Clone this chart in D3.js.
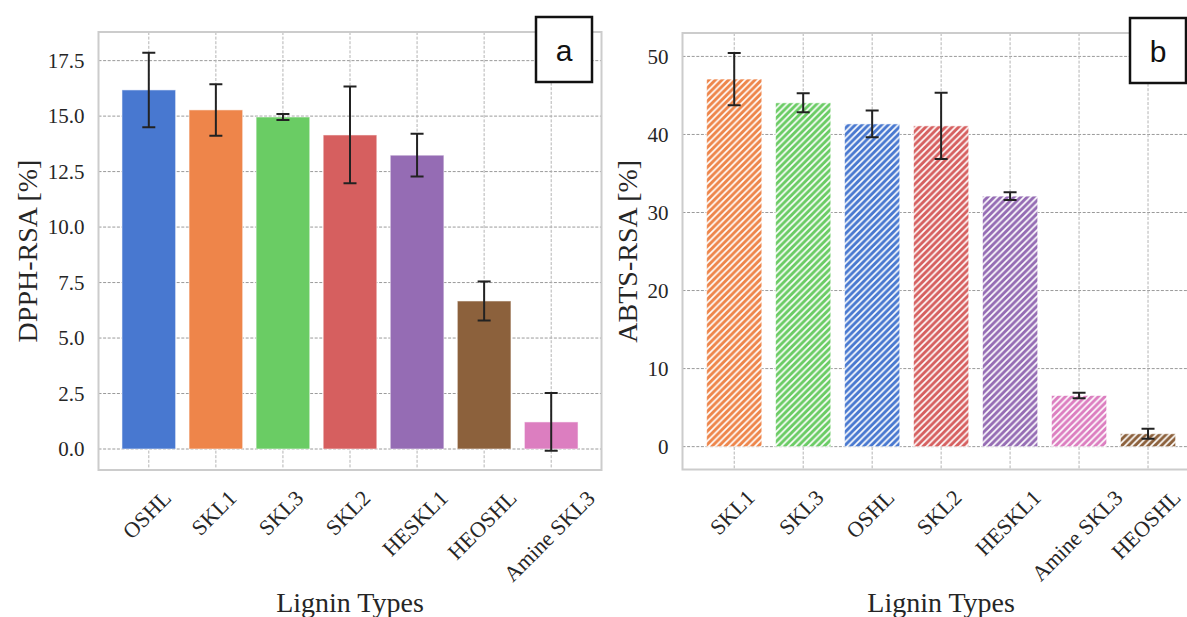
<!DOCTYPE html>
<html>
<head>
<meta charset="utf-8">
<script src="https://cdn.jsdelivr.net/npm/d3@7"></script>
<style>
  html, body { margin: 0; padding: 0; background: #ffffff; }
  svg { display: block; }
</style>
</head>
<body>
<svg id="chart" width="1187" height="617"></svg>
<script>
// ---------- data ----------
const catsA = ["OSHL", "SKL1", "SKL3", "SKL2", "HESKL1", "HEOSHL", "Amine SKL3"];
const valsA = [16.18, 15.28, 14.96, 14.15, 13.24, 6.67, 1.22];
const errA  = [1.68, 1.16, 0.14, 2.18, 0.96, 0.88, 1.30];

const catsB = ["SKL1", "SKL3", "OSHL", "SKL2", "HESKL1", "Amine SKL3", "HEOSHL"];
const valsB = [47.1, 44.05, 41.35, 41.1, 32.1, 6.55, 1.65];
const errB  = [3.35, 1.22, 1.72, 4.25, 0.50, 0.35, 0.65];

const ticksA = [0, 2.5, 5, 7.5, 10, 12.5, 15, 17.5];
const ticksB = [0, 10, 20, 30, 40, 50];

const colorNames = ["OSHL", "SKL1", "SKL3", "SKL2", "HESKL1", "HEOSHL", "Amine SKL3"];
const colorVals  = ["#4878d0", "#ee854a", "#6acc64", "#d65f5f", "#956cb4", "#8c613c", "#dc7ec0"];

// ---------- setup ----------
const svg = d3.select("#chart");
const color = d3.scaleOrdinal().domain(colorNames).range(colorVals);

const defs = svg.append("defs");
const P = 6.6;
colorVals.forEach((c, i) => {
  const p = defs.append("pattern")
    .attr("id", "hatch" + i)
    .attr("patternUnits", "userSpaceOnUse")
    .attr("width", P).attr("height", P);
  p.append("rect").attr("width", P).attr("height", P).attr("fill", c);
  p.append("path")
    .attr("d", `M0,${P} L${P},0 M${-P/4},${P/4} L${P/4},${-P/4} M${P*3/4},${P*5/4} L${P*5/4},${P*3/4}`)
    .attr("stroke", "#ffffff").attr("stroke-width", 1.7);
});

const serif = "'Liberation Serif', 'Times New Roman', serif";
const sans = "'Liberation Sans', Arial, sans-serif";

function panel(opts) {
  const { cats, vals, errs, ticks, x0, x1, y0, y1, yDom, fmt, hatch, ylabel, letter, box, capHalf } = opts;
  const x = d3.scaleLinear().domain([-0.75, 6.75]).range([x0, x1]);
  const y = d3.scaleLinear().domain(yDom).range([y1, y0]);
  const g = svg.append("g");
  const clipId = "clip" + letter;
  defs.append("clipPath").attr("id", clipId)
    .append("rect").attr("x", x0).attr("y", y0).attr("width", x1 - x0).attr("height", y1 - y0);
  const inner = g.append("g").attr("clip-path", `url(#${clipId})`);

  // horizontal grid
  inner.selectAll(".hg").data(ticks).enter().append("line")
    .attr("x1", x0).attr("x2", x1)
    .attr("y1", d => y(d)).attr("y2", d => y(d))
    .attr("stroke", "#9a9a9a").attr("stroke-width", 1).attr("stroke-dasharray", "3,1.6");
  // vertical grid
  inner.selectAll(".vg").data(cats).enter().append("line")
    .attr("x1", (d, i) => x(i)).attr("x2", (d, i) => x(i))
    .attr("y1", y0).attr("y2", y1)
    .attr("stroke", "#b4b4b4").attr("stroke-width", 1).attr("stroke-dasharray", "3,1.6");

  // bars
  const bw = x(0.4) - x(0);
  inner.selectAll(".bar").data(cats).enter().append("rect")
    .attr("x", (d, i) => x(i) - bw)
    .attr("width", 2 * bw)
    .attr("y", (d, i) => y(vals[i]))
    .attr("height", (d, i) => y(0) - y(vals[i]))
    .attr("fill", d => hatch ? `url(#hatch${colorNames.indexOf(d)})` : color(d))
    .attr("stroke", "rgba(255,255,255,0.55)").attr("stroke-width", 1);

  // error bars
  const eb = inner.selectAll(".eb").data(cats).enter().append("g");
  eb.append("line")
    .attr("x1", (d, i) => x(i)).attr("x2", (d, i) => x(i))
    .attr("y1", (d, i) => y(vals[i] + errs[i])).attr("y2", (d, i) => y(vals[i] - errs[i]))
    .attr("stroke", "#222").attr("stroke-width", 2);
  [1, -1].forEach(s => {
    eb.append("line")
      .attr("x1", (d, i) => x(i) - capHalf).attr("x2", (d, i) => x(i) + capHalf)
      .attr("y1", (d, i) => y(vals[i] + s * errs[i])).attr("y2", (d, i) => y(vals[i] + s * errs[i]))
      .attr("stroke", "#222").attr("stroke-width", 2);
  });

  // frame
  g.append("rect").attr("x", x0).attr("y", y0).attr("width", x1 - x0).attr("height", y1 - y0)
    .attr("fill", "none").attr("stroke", "#cccccc").attr("stroke-width", 2);

  // y tick labels
  g.selectAll(".yt").data(ticks).enter().append("text")
    .attr("x", x0 - 14).attr("y", d => y(d))
    .attr("dy", "0.34em")
    .attr("text-anchor", "end")
    .attr("font-family", serif).attr("font-size", 21).attr("fill", "#262626")
    .text(d => fmt(d));

  // x tick labels rotated 45°, bbox centred on tick
  const fs = 22;
  cats.forEach((c, i) => {
    const t = g.append("text")
      .attr("text-anchor", "middle")
      .attr("dominant-baseline", "central")
      .attr("font-family", serif).attr("font-size", fs).attr("fill", "#262626")
      .text(c);
    const w = t.node().getComputedTextLength();
    const h = fs * 0.68;
    const half = (w + h) * Math.SQRT1_2 / 2;
    t.attr("transform", `translate(${x(i) - 2},${y1 + 19 + half}) rotate(-45)`);
  });

  // axis titles
  g.append("text")
    .attr("transform", `translate(${ylabel.x},${(y0 + y1) / 2}) rotate(-90)`)
    .attr("text-anchor", "middle")
    .attr("font-family", serif).attr("font-size", 28).attr("fill", "#262626")
    .text(ylabel.text);
  g.append("text")
    .attr("x", (x0 + x1) / 2).attr("y", 612)
    .attr("text-anchor", "middle")
    .attr("font-family", serif).attr("font-size", 28).attr("fill", "#262626")
    .text("Lignin Types");

  // panel letter box
  g.append("rect").attr("x", box.x).attr("y", box.y).attr("width", 56).attr("height", 65)
    .attr("fill", "#ffffff").attr("stroke", "#111").attr("stroke-width", 2.5);
  g.append("text")
    .attr("x", box.x + 28).attr("y", box.y + 33).attr("dy", "0.35em")
    .attr("text-anchor", "middle")
    .attr("font-family", sans).attr("font-size", 30).attr("fill", "#111")
    .text(letter);
}

panel({
  cats: catsA, vals: valsA, errs: errA, ticks: ticksA,
  x0: 98.5, x1: 601.5, y0: 32, y1: 470, yDom: [-0.946, 18.79],
  fmt: d3.format(".1f"), hatch: false,
  ylabel: { x: 37, text: "DPPH-RSA [%]" }, letter: "a",
  box: { x: 536, y: 17 }, capHalf: 6.5
});

panel({
  cats: catsB, vals: valsB, errs: errB, ticks: ticksB,
  x0: 682.5, x1: 1199.75, y0: 33, y1: 469.5, yDom: [-2.93, 53.0],
  fmt: d3.format("d"), hatch: true,
  ylabel: { x: 637, text: "ABTS-RSA [%]" }, letter: "b",
  box: { x: 1130, y: 18 }, capHalf: 6.5
});
</script>
</body>
</html>
